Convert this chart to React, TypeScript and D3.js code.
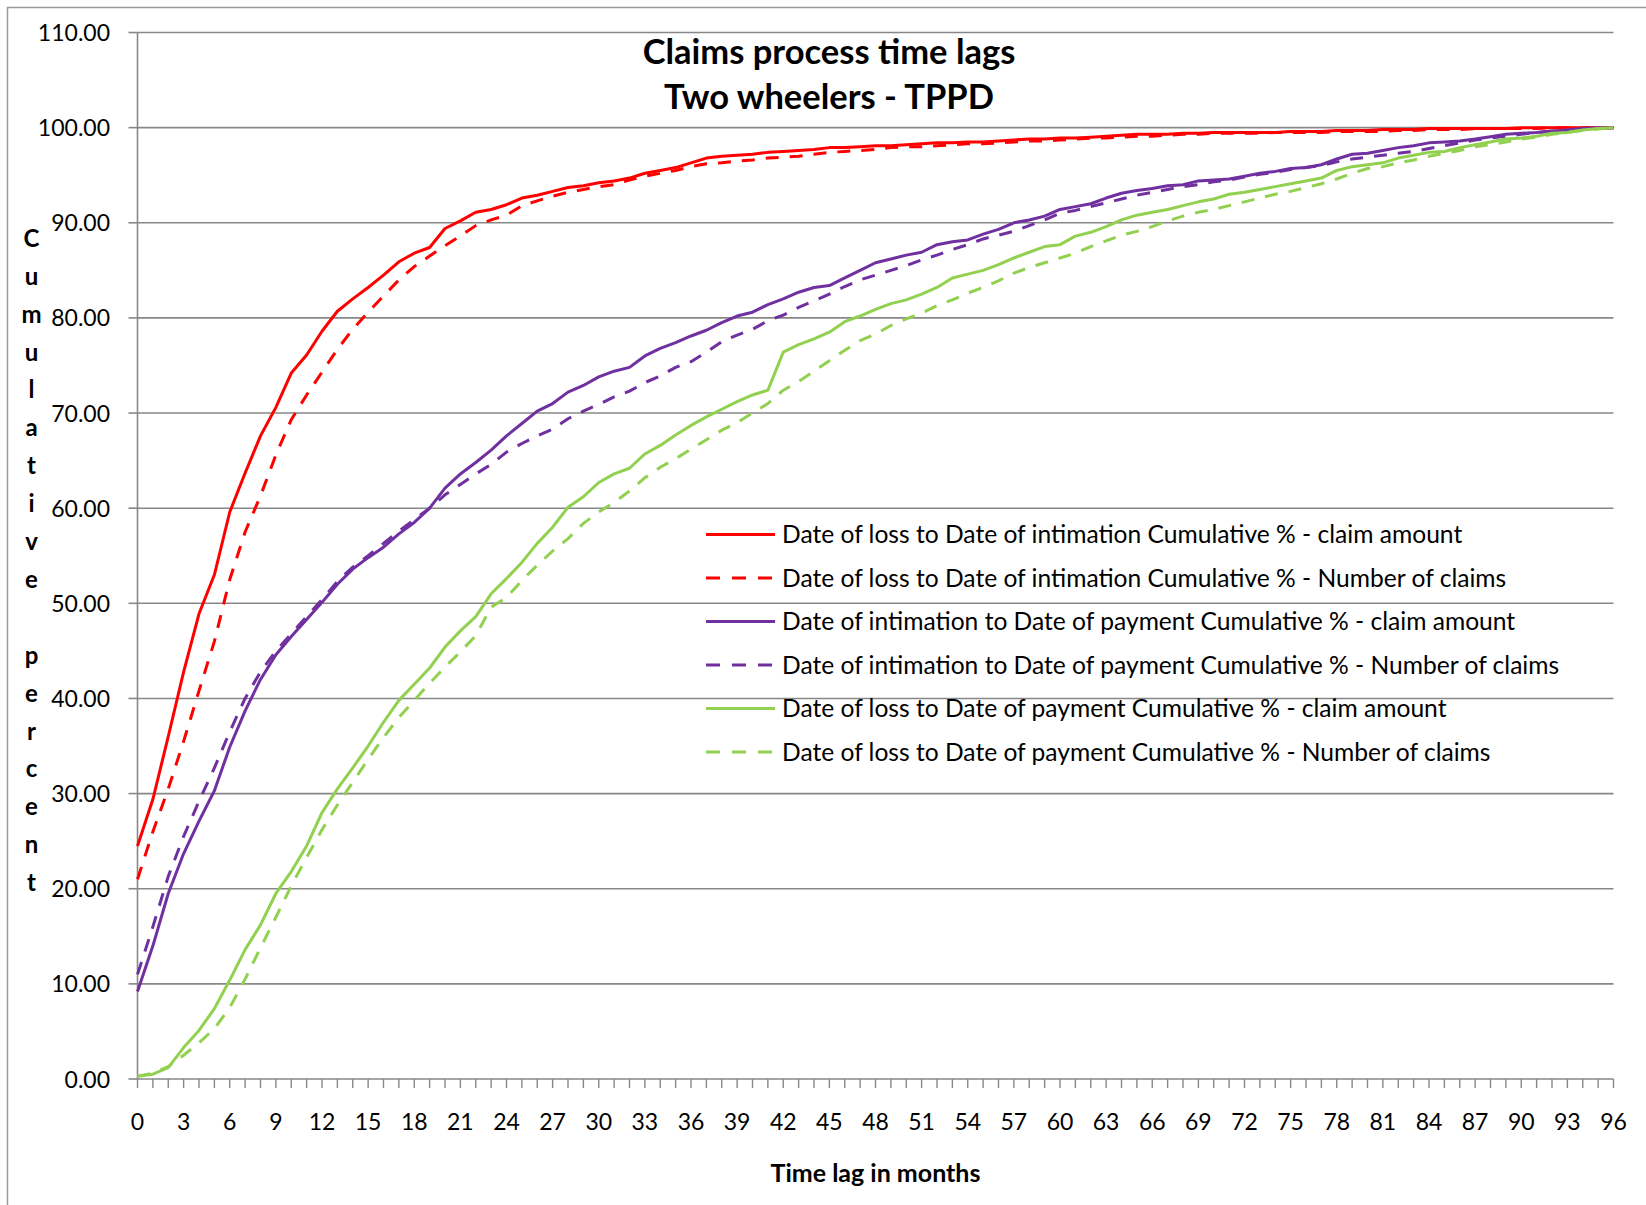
import React from 'react';
import * as d3 from 'd3';

// Cumulative % by time lag in months (index = month 0..96)
const lossToIntimationAmount = [
  24.5, 29.4, 36.0, 42.8, 48.9, 53.0, 59.6, 63.7, 67.6, 70.6,
  74.2, 76.1, 78.6, 80.7, 82.0, 83.2, 84.5, 85.9, 86.8, 87.4,
  89.4, 90.2, 91.1, 91.4, 91.9, 92.6, 92.9, 93.3, 93.7, 93.9,
  94.2, 94.4, 94.7, 95.2, 95.5, 95.8, 96.3, 96.8, 97.0, 97.1,
  97.2, 97.4, 97.5, 97.6, 97.7, 97.9, 97.9, 98.0, 98.1, 98.1,
  98.2, 98.3, 98.4, 98.4, 98.5, 98.5, 98.6, 98.7, 98.8, 98.8,
  98.9, 98.9, 99.0, 99.1, 99.2, 99.3, 99.3, 99.3, 99.4, 99.4,
  99.5, 99.5, 99.5, 99.5, 99.5, 99.6, 99.6, 99.6, 99.7, 99.7,
  99.7, 99.8, 99.8, 99.8, 99.9, 99.9, 99.9, 99.9, 99.9, 99.9,
  100.0, 100.0, 100.0, 100.0, 100.0, 100.0, 100.0,
];
const lossToIntimationCount = [
  21.0, 26.0, 30.5, 35.5, 40.8, 46.0, 52.5, 57.5, 61.3, 65.6,
  69.3, 71.9, 74.3, 76.7, 78.8, 80.6, 82.3, 84.0, 85.4, 86.5,
  87.6, 88.6, 89.7, 90.3, 90.8, 91.8, 92.3, 92.8, 93.2, 93.5,
  93.8, 94.0, 94.5, 94.9, 95.2, 95.5, 95.9, 96.2, 96.3, 96.5,
  96.6, 96.8, 96.9, 97.0, 97.2, 97.4, 97.5, 97.6, 97.7, 97.9,
  98.0, 98.0, 98.1, 98.2, 98.3, 98.3, 98.4, 98.5, 98.6, 98.6,
  98.7, 98.8, 98.9, 98.9, 99.0, 99.1, 99.1, 99.2, 99.3, 99.3,
  99.4, 99.4, 99.4, 99.4, 99.5, 99.5, 99.5, 99.5, 99.6, 99.6,
  99.6, 99.6, 99.7, 99.7, 99.8, 99.8, 99.8, 99.9, 99.9, 99.9,
  99.9, 99.9, 100.0, 100.0, 100.0, 100.0, 100.0,
];
const intimationToPaymentAmount = [
  9.2, 14.0, 19.5, 23.7, 27.1, 30.3, 34.9, 38.7, 42.0, 44.6,
  46.5, 48.3, 50.1, 52.0, 53.6, 54.8, 55.9, 57.3, 58.5, 60.0,
  62.1, 63.6, 64.8, 66.1, 67.6, 68.9, 70.2, 71.0, 72.2, 72.9,
  73.8, 74.4, 74.8, 76.0, 76.8, 77.4, 78.1, 78.7, 79.5, 80.2,
  80.6, 81.4, 82.0, 82.7, 83.2, 83.4, 84.2, 85.0, 85.8, 86.2,
  86.6, 86.9, 87.7, 88.0, 88.2, 88.8, 89.3, 90.0, 90.3, 90.7,
  91.4, 91.7, 92.0, 92.6, 93.1, 93.4, 93.6, 93.9, 94.0, 94.4,
  94.5, 94.6, 94.9, 95.2, 95.4, 95.7, 95.8, 96.1, 96.7, 97.2,
  97.3, 97.6, 97.9, 98.1, 98.4, 98.5, 98.6, 98.8, 99.05, 99.3,
  99.4, 99.5, 99.65, 99.75, 99.9, 99.95, 100.0,
];
const intimationToPaymentCount = [
  11.0, 16.0, 21.3, 25.5, 29.2, 32.7, 36.5, 40.0, 42.8, 45.0,
  46.8, 48.6, 50.4, 52.3, 53.8, 55.0, 56.3, 57.6, 58.8, 60.0,
  61.4, 62.5, 63.6, 64.6, 65.9, 66.8, 67.6, 68.3, 69.4, 70.2,
  70.9, 71.7, 72.3, 73.2, 73.9, 74.8, 75.4, 76.4, 77.5, 78.2,
  78.8, 79.7, 80.3, 81.1, 81.8, 82.5, 83.3, 84.0, 84.5, 85.0,
  85.5, 86.1, 86.6, 87.2, 87.7, 88.3, 88.7, 89.1, 89.7, 90.3,
  91.0, 91.3, 91.7, 92.1, 92.5, 92.9, 93.2, 93.5, 93.8, 94.0,
  94.3, 94.5, 94.8, 95.1, 95.3, 95.6, 95.8, 96.0, 96.4, 96.7,
  96.9, 97.1, 97.3, 97.5, 97.8, 98.1, 98.4, 98.7, 98.9, 99.1,
  99.3, 99.5, 99.6, 99.75, 99.85, 99.95, 100.0,
];
const lossToPaymentAmount = [
  0.3, 0.5, 1.2, 3.3, 5.1, 7.4, 10.4, 13.6, 16.2, 19.5,
  21.8, 24.5, 28.0, 30.5, 32.7, 35.0, 37.5, 39.8, 41.5, 43.2,
  45.4, 47.1, 48.6, 51.0, 52.6, 54.3, 56.3, 58.0, 60.1, 61.2,
  62.7, 63.6, 64.2, 65.7, 66.6, 67.7, 68.7, 69.6, 70.4, 71.2,
  71.9, 72.4, 76.4, 77.2, 77.8, 78.5, 79.6, 80.2, 80.9, 81.5,
  81.9, 82.5, 83.2, 84.2, 84.6, 85.0, 85.6, 86.3, 86.9, 87.5,
  87.7, 88.6, 89.0, 89.6, 90.3, 90.8, 91.1, 91.4, 91.8, 92.2,
  92.5, 93.0, 93.2, 93.5, 93.8, 94.1, 94.4, 94.7, 95.5, 95.9,
  96.1, 96.3, 96.8, 97.1, 97.4, 97.5, 97.9, 98.2, 98.5, 98.8,
  98.9, 99.1, 99.4, 99.5, 99.75, 99.9, 100.0,
];
const lossToPaymentCount = [
  0.3, 0.6, 1.3, 2.5, 3.8, 5.3, 7.5, 10.5, 13.8, 17.0,
  20.3, 23.3, 26.2, 28.8, 31.2, 33.6, 35.9, 38.0, 39.8, 41.6,
  43.3, 44.9, 46.6, 49.6, 50.6, 52.4, 54.0, 55.5, 56.8, 58.4,
  59.6, 60.6, 61.8, 63.2, 64.3, 65.2, 66.2, 67.2, 68.2, 69.0,
  70.0, 71.0, 72.4, 73.3, 74.4, 75.5, 76.6, 77.6, 78.3, 79.2,
  79.9, 80.5, 81.3, 81.9, 82.6, 83.2, 83.9, 84.7, 85.3, 85.8,
  86.3, 86.8, 87.5, 88.1, 88.7, 89.1, 89.6, 90.2, 90.7, 91.1,
  91.4, 91.8, 92.2, 92.6, 93.0, 93.3, 93.7, 94.1, 94.6, 95.2,
  95.7, 95.9, 96.3, 96.6, 97.0, 97.3, 97.6, 98.0, 98.2, 98.5,
  98.8, 99.0, 99.3, 99.5, 99.7, 99.85, 100.0,
];

const seriesValues = [
  lossToIntimationAmount,
  lossToIntimationCount,
  intimationToPaymentAmount,
  intimationToPaymentCount,
  lossToPaymentAmount,
  lossToPaymentCount,
];
const seriesNames = [
  'Date of loss to Date of intimation Cumulative % - claim amount',
  'Date of loss to Date of intimation Cumulative % - Number of claims',
  'Date of intimation to Date of payment Cumulative % - claim amount',
  'Date of intimation to Date of payment Cumulative % - Number of claims',
  'Date of loss to Date of payment Cumulative % - claim amount',
  'Date of loss to Date of payment Cumulative % - Number of claims',
];
const seriesColors = ['#FF0000', '#FF0000', '#7030A0', '#7030A0', '#92D050', '#92D050'];
const seriesDashed = [false, true, false, true, false, true];

const yTickValues = [0, 10, 20, 30, 40, 50, 60, 70, 80, 90, 100, 110];
const xTickLabels = [0, 3, 6, 9, 12, 15, 18, 21, 24, 27, 30, 33, 36, 39, 42, 45, 48, 51, 54, 57, 60, 63, 66, 69, 72, 75, 78, 81, 84, 87, 90, 93, 96];
const titleLines = ['Claims process time lags', 'Two wheelers - TPPD'];
const xAxisTitle = 'Time lag in months';
const yAxisTitle = 'Cumulative percent';

const FONT = 'Lato, Carlito, Calibri, "Open Sans", sans-serif';

export default function App() {
  const W = 1646;
  const H = 1205;
  const x = d3.scaleLinear().domain([0, 96]).range([137.5, 1613.5]);
  const y = d3.scaleLinear().domain([0, 110]).range([1079, 32.5]);
  const line = d3
    .line<number>()
    .x((_, i) => x(i))
    .y((d) => y(d));

  const monthTicks = lossToIntimationAmount.map((_, i) => i);
  const gridColor = '#878787';
  const legendY = d3.scaleLinear().domain([0, 5]).range([534.5, 752]);

  return (
    <svg
      width={W}
      height={H}
      viewBox={`0 0 ${W} ${H}`}
      style={{ position: 'absolute', left: 0, top: 0, background: '#fff' }}
      fontFamily={FONT}
    >
      <rect x={0} y={0} width={W} height={H} fill="#fff" />
      <rect x={7.5} y={7.5} width={W + 40} height={H + 40} fill="none" stroke="#9a9a9a" strokeWidth={1.5} />

      {/* gridlines */}
      {yTickValues.map((v) => (
        <line key={'g' + v} x1={x(0)} x2={x(96)} y1={y(v)} y2={y(v)} stroke={gridColor} strokeWidth={1.6} />
      ))}
      {/* y axis */}
      <line x1={x(0)} x2={x(0)} y1={y(110)} y2={y(0)} stroke={gridColor} strokeWidth={1.6} />
      {yTickValues.map((v) => (
        <line key={'yt' + v} x1={x(0) - 9} x2={x(0)} y1={y(v)} y2={y(v)} stroke={gridColor} strokeWidth={1.6} />
      ))}
      {yTickValues.map((v) => (
        <text key={'yl' + v} x={110} y={y(v) + 8.5} textAnchor="end" fontSize={23} fill="#000">
          {v.toFixed(2)}
        </text>
      ))}
      {/* x axis ticks */}
      {monthTicks.map((m) => (
        <line key={'xt' + m} x1={x(m)} x2={x(m)} y1={y(0)} y2={y(0) + 9} stroke={gridColor} strokeWidth={1.4} />
      ))}
      {xTickLabels.map((m) => (
        <text key={'xl' + m} x={x(m)} y={1129.5} textAnchor="middle" fontSize={23} fill="#000">
          {m}
        </text>
      ))}

      {/* series */}
      {seriesValues.map((vals, i) => (
        <path
          key={'s' + i}
          d={line(vals) || ''}
          fill="none"
          stroke={seriesColors[i]}
          strokeWidth={3}
          strokeDasharray={seriesDashed[i] ? '13 11' : undefined}
          strokeLinejoin="round"
        />
      ))}

      {/* title */}
      {titleLines.map((t, i) => (
        <text key={'t' + i} x={829} y={63.5 + i * 45} textAnchor="middle" fontSize={34.5} fontWeight="bold" fill="#000">
          {t}
        </text>
      ))}

      {/* axis titles */}
      <text x={875.5} y={1182} textAnchor="middle" fontSize={25} fontWeight="bold" fill="#000">
        {xAxisTitle}
      </text>
      {yAxisTitle.split('').map((ch, i) => (
        <text key={'ya' + i} x={31.5} y={238.3 + i * 37.9 + 8.5} textAnchor="middle" fontSize={24} fontWeight="bold" fill="#000">
          {ch}
        </text>
      ))}

      {/* legend */}
      {seriesNames.map((name, i) => (
        <g key={'lg' + i}>
          <line
            x1={706}
            x2={775}
            y1={legendY(i)}
            y2={legendY(i)}
            stroke={seriesColors[i]}
            strokeWidth={3}
            strokeDasharray={seriesDashed[i] ? '14 12' : undefined}
          />
          <text x={782} y={legendY(i) + 8.5} fontSize={24.6} fill="#000">
            {name}
          </text>
        </g>
      ))}
    </svg>
  );
}
